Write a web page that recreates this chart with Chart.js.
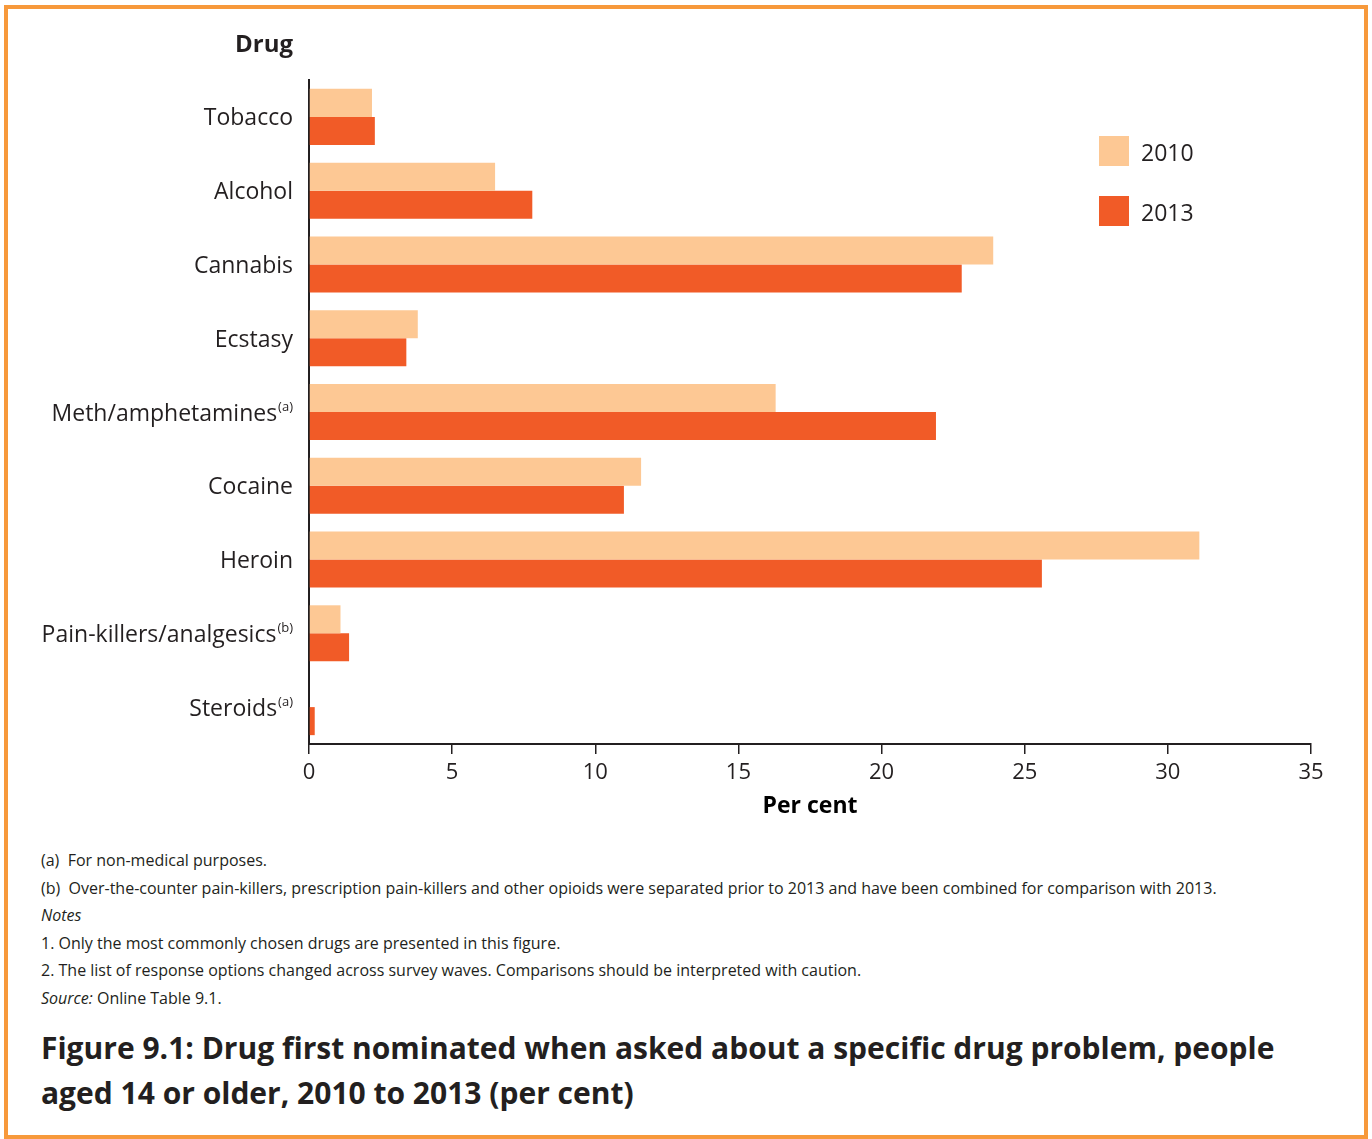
<!DOCTYPE html>
<html><head><meta charset="utf-8">
<script src="https://cdn.jsdelivr.net/npm/chart.js@4/dist/chart.umd.min.js"></script>
<style>
html,body{margin:0;padding:0;background:#fff;}
body{width:1372px;height:1139px;position:relative;overflow:hidden;font-family:"Open Sans",sans-serif;color:#231f20;}
#frame{position:absolute;left:4px;top:5px;width:1364px;height:1134px;box-sizing:border-box;border:4px solid #F7993B;}
#wrap{position:absolute;left:0;top:0;width:1372px;height:830px;}
#notes{position:absolute;left:41px;top:847px;font-size:16px;line-height:27.6px;white-space:pre;}
#notes i{font-style:italic;}
#title{position:absolute;left:41px;top:1025px;font-size:30px;font-weight:bold;line-height:45px;white-space:pre;}
</style>
</head><body>
<div id="frame"></div>
<div id="wrap"><canvas id="c" width="1372" height="830"></canvas></div>
<div id="notes"><div>(a)  For non-medical purposes.</div><div>(b)  Over-the-counter pain-killers, prescription pain-killers and other opioids were separated prior to 2013 and have been combined for comparison with 2013.</div><div><i>Notes</i></div><div>1. Only the most commonly chosen drugs are presented in this figure.</div><div>2. The list of response options changed across survey waves. Comparisons should be interpreted with caution.</div><div><i>Source:</i> Online Table 9.1.</div></div>
<div id="title">Figure 9.1: Drug first nominated when asked about a specific drug problem, people
aged 14 or older, 2010 to 2013 (per cent)</div>
<script>
const categories = ["Tobacco","Alcohol","Cannabis","Ecstasy","Meth/amphetamines","Cocaine","Heroin","Pain-killers/analgesics","Steroids"];
const superscripts = ["","","","","(a)","","","(b)","(a)"];
const seriesLabels = ["2010","2013"];
const values2010 = [2.2,6.5,23.9,3.8,16.3,11.6,31.1,1.1,0];
const values2013 = [2.3,7.8,22.8,3.4,21.9,11.0,25.6,1.4,0.2];
const xTicks = [0,5,10,15,20,25,30,35];

const FAM = '"Open Sans", sans-serif';
const TXT = '#231f20';
Chart.defaults.font.family = FAM;

const labelPlugin = {
  id:'labels',
  afterDraw(chart){
    const ctx = chart.ctx, ys = chart.scales.y;
    ctx.save();
    ctx.fillStyle = TXT;
    ctx.textBaseline = 'middle';
    ctx.textAlign = 'right';
    ctx.font = 'bold 24px ' + FAM;
    ctx.fillText('Drug', 293, 45);
    categories.forEach((c,i)=>{
      const py = ys.getPixelForValue(i) + 2;
      let right = 293;
      const sup = superscripts[i];
      if (sup){
        ctx.font = '13px ' + FAM;
        ctx.fillText(sup, right, py-7);
        right -= ctx.measureText(sup).width + 1;
      }
      ctx.font = '23px ' + FAM;
      ctx.fillText(c, right, py);
    });
    chart.data.datasets.forEach((ds,i)=>{
      const top = 136 + i*60;
      ctx.fillStyle = ds.backgroundColor;
      ctx.fillRect(1099, top, 30, 30);
      ctx.fillStyle = TXT;
      ctx.textAlign = 'left';
      ctx.font = '23px ' + FAM;
      ctx.fillText(ds.label, 1141, top+18);
    });
    ctx.restore();
  }
};

new Chart(document.getElementById('c'), {
  type:'bar',
  data:{
    labels: categories,
    datasets:[
      {label:seriesLabels[0], data:values2010, backgroundColor:'#FDC894', borderWidth:0, categoryPercentage:0.76, barPercentage:1},
      {label:seriesLabels[1], data:values2013, backgroundColor:'#F15B27', borderWidth:0, categoryPercentage:0.76, barPercentage:1}
    ]
  },
  options:{
    indexAxis:'y',
    responsive:false,
    animation:false,
    layout:{padding:{left:0,right:61,top:80,bottom:0}},
    plugins:{legend:{display:false},tooltip:{enabled:false}},
    scales:{
      x:{
        min:0,max:35,
        afterBuildTicks(s){ s.ticks = xTicks.map(v=>({value:v})); },
        ticks:{color:TXT,font:{size:22},padding:6,maxRotation:0},
        grid:{drawOnChartArea:false,drawTicks:true,tickLength:10,color:TXT,lineWidth:1.5},
        border:{color:TXT,width:2},
        title:{display:true,text:'Per cent',color:'#000',font:{size:23,weight:'bold'},padding:{top:0,bottom:10}},
        afterFit(s){ s.height = 86; }
      },
      y:{
        ticks:{display:false},
        grid:{display:false},
        border:{color:TXT,width:2},
        afterFit(s){ s.width = 309; }
      }
    }
  },
  plugins:[labelPlugin]
});
</script>
</body></html>
